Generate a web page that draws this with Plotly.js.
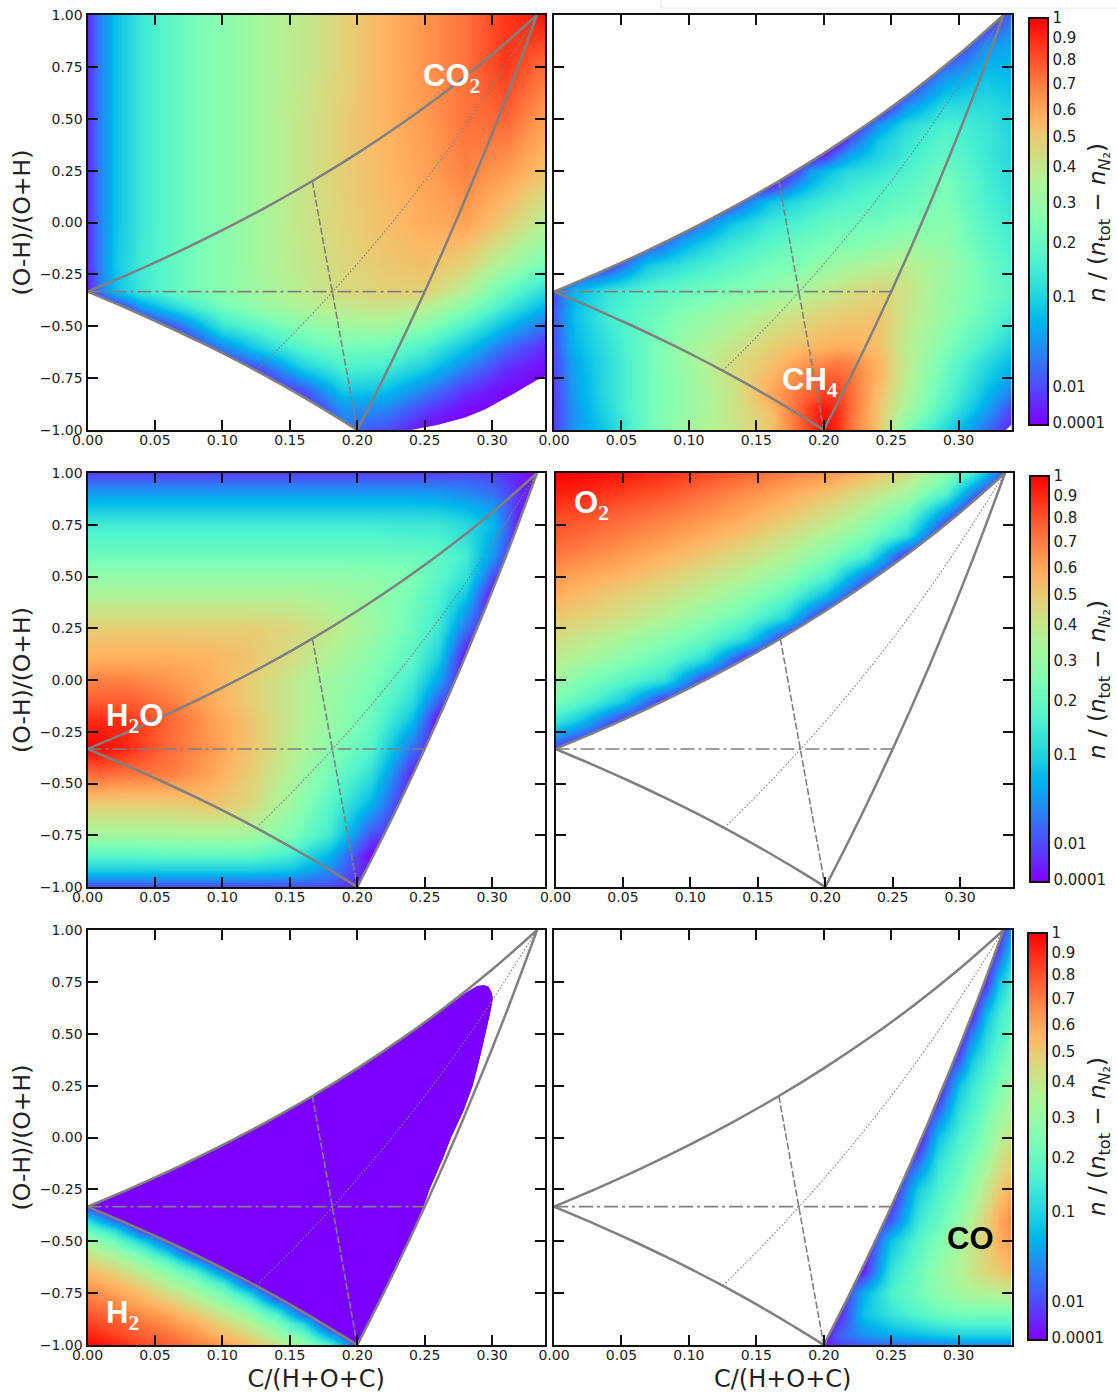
<!DOCTYPE html>
<html><head><meta charset="utf-8">
<script src="https://cdn.plot.ly/plotly-3.0.1.min.js"></script>
<style>html,body{margin:0;padding:0;background:#fff}</style></head>
<body><div id="chart" style="width:1117px;height:1396px"></div>
<script>
// Stoichiometric lines (C fraction, (O-H)/(O+H))
const upperX=[0,.0333,.0667,.1,.1333,.1667,.2,.2333,.2667,.3,.3333];
const upperY=[-.3333,-.2414,-.1429,-.037,.0769,.2,.3333,.478,.636,.8095,1];
const lowerX=[0,.03125,.0588,.0833,.1053,.125,.1429,.1591,.1739,.1875,.2];
const lowerY=[-.3333,-.4194,-.5,-.5758,-.647,-.714,-.778,-.838,-.895,-.949,-1];
const rightX=[.2,.2083,.2174,.2273,.2381,.25,.2632,.2778,.2941,.3125,.3333];
const rightY=[-1,-.8947,-.778,-.647,-.5,-.3333,-.1429,.0769,.3333,.636,1];
const dashX=[.1667,.2];const dashY=[.2,-1];
const dashDotX=[0,.25];const dashDotY=[-.3333,-.3333];
const dotX=[.125,.1429,.1667,.1818,.2,.2222,.25,.2857,.3333];
const dotY=[-.714,-.6,-.44,-.3333,-.2,-.0286,.2,.52,1];
// Outer edges of the coloured areas
const co2ArcX=[.24,.26,.28,.295,.306,.316,.325,.333,.34];
const co2ArcY=[-1,-.975,-.94,-.9,-.86,-.825,-.79,-.76,-.74];
const h2EdgeX=[.2,.2083,.2174,.2273,.2381,.249,.2535,.2635,.2695,.2785,.2855,.2905,.295,.2985,.3005,.2995,.2973,.294,.289,.28,.272];
const h2EdgeY=[-1,-.8947,-.778,-.647,-.5,-.3333,-.25,-.1,0,.125,.25,.375,.5,.6,.67,.70,.726,.734,.73,.695,.655];
// Colour bar ticks (position along the bar) and their labels
const cbTicks=[1,.951,.897,.838,.774,.708,.634,.545,.447,.314,.093,.005];
const cbText=['1','0.9','0.8','0.7','0.6','0.5','0.4','0.3','0.2','0.1','0.01','0.0001'];
const xTicks=[0,.05,.1,.15,.2,.25,.3];
const yTicks=[-1,-.75,-.5,-.25,0,.25,.5,.75,1];
// Colour levels (100 * sqrt(n/(ntot-nN2))), rows listed from top to bottom
const co2X=[0,.008,.02,.04,.07,.10,.13,.16,.19,.22,.25,.28,.31,.34];
const co2Y=[1,.75,.5,.25,0,-.2,-.33,-.4,-.5,-.6,-.7,-.8,-.9,-1];
const co2Z=[
[5,16,27,37,46,52,58,63,69,75,80,85,93,98],
[5,16,27,37,46,52,58,63,69,75,80,85,93,85],
[5,16,27,37,46,52,58,64,70,75,79,85,87,78],
[5,16,27,37,46,52,58,64,70,74,78,83,79,72],
[5,16,27,37,46,52,58,64,69,73,76,78,70,60],
[5,16,28,38,46,52,58,63,68,71,73,69,58,48],
[3,15,27,37,46,52,57,62,67,69,70,60,45,33],
[0,0,5,22,36,48,55,60,63,65,62,52,38,25],
[0,0,0,0,15,36,44,52,56,57,52,40,26,14],
[0,0,0,0,0,18,32,43,48,47,40,28,14,5],
[0,0,0,0,0,0,12,30,40,38,30,17,6,1],
[0,0,0,0,0,0,0,12,30,28,18,7,1,0],
[0,0,0,0,0,0,0,0,20,18,8,1,0,0],
[0,0,0,0,0,0,0,0,15,10,1,0,0,0]];
const ch4X=[0,.015,.04,.07,.10,.13,.16,.18,.19,.2,.21,.22,.24,.26,.29,.32,.34];
const ch4Y=[1,.85,.7,.55,.47,.4,.33,.25,.18,.1,0,-.1,-.2,-.33,-.45,-.6,-.67,-.75,-.83,-.9,-.95,-1];
const ch4Z=[
[0,0,0,0,0,0,0,0,0,0,0,0,0,0,0,0,15],
[0,0,0,0,0,0,0,0,0,0,0,0,0,0,0,20,24],
[0,0,0,0,0,0,0,0,0,0,0,0,0,0,20,28,26],
[0,0,0,0,0,0,0,0,0,0,0,0,0,20,34,34,30],
[0,0,0,0,0,0,0,0,0,0,0,0,20,32,40,36,31],
[0,0,0,0,0,0,0,0,0,0,0,12,28,36,42,37,32],
[0,0,0,0,0,0,0,0,0,3,14,22,31,37,44,37,32],
[0,0,0,0,0,0,0,8,20,26,30,33,36,40,47,38,33],
[0,0,0,0,0,0,3,20,26,31,34,37,40,43,49,39,34],
[0,0,0,0,0,8,28,33,36,38,40,41,43,45,50,40,35],
[0,0,0,0,10,27,37,40,42,44,45,46,47,50,52,42,37],
[0,0,0,8,25,36,42,46,47,48,50,50,52,55,53,44,38],
[0,0,5,28,36,42,48,50,52,54,56,57,60,62,56,46,40],
[10,25,36,42,46,50,54,57,60,62,64,66,69,65,55,47,42],
[12,27,38,45,52,57,63,66,68,69,70,71,72,64,54,45,38],
[10,25,35,47,57,63,70,73,74,75,76,76,73,62,50,38,30],
[9,23,34,47,56,66,72,78,80,82,84,82,75,63,47,33,25],
[8,22,34,47,55,65,75,82,85,88,88,85,75,62,45,30,22],
[8,21,34,47,55,63,77,85,88,92,92,86,73,60,43,26,15],
[8,20,33,47,55,63,73,86,93,97,94,86,72,58,40,22,8],
[8,20,31,47,56,63,72,86,92,99,95,85,72,54,36,18,5],
[8,20,30,48,57,63,72,85,92,100,95,85,72,50,32,15,3]];
const h2oX=[0,.01,.03,.06,.09,.12,.15,.18,.21,.24,.26,.28,.30,.32,.34];
const h2oY=[1,.95,.9,.85,.75,.6,.5,.4,.25,.1,0,-.1,-.2,-.33,-.45,-.6,-.75,-.85,-.92,-.97,-1];
const h2oZ=[
[8,8,8,8,8,8,8,8,8,8,8,8,8,4,0],
[15,15,15,15,15,15,15,15,15,15,15,14,12,4,0],
[22,22,22,22,22,22,22,22,22,22,21,19,15,6,0],
[27,27,27,27,27,27,27,27,27,27,26,24,20,5,0],
[38,38,38,38,38,38,38,38,38,37,37,33,26,2,0],
[47,47,47,47,47,47,47,47,47,46,44,38,20,0,0],
[54,54,54,54,54,54,54,54,53,50,43,35,10,0,0],
[60,60,60,60,60,60,60,58,55,48,40,28,0,0,0],
[70,70,70,70,70,70,68,63,56,46,37,15,0,0,0],
[75,76,76,76,75,72,66,59,52,43,30,0,0,0,0],
[82,83,83,80,76,70,63,56,50,39,22,0,0,0,0],
[88,88,88,84,77,70,63,55,48,34,12,0,0,0,0],
[95,95,94,87,79,72,63,55,46,27,0,0,0,0,0],
[100,99,95,86,80,72,62,52,42,15,0,0,0,0,0],
[86,87,85,84,78,70,60,48,35,5,0,0,0,0,0],
[70,70,70,70,72,68,56,42,25,0,0,0,0,0,0],
[57,57,57,57,58,57,50,37,10,0,0,0,0,0,0],
[42,42,42,43,43,43,38,24,0,0,0,0,0,0,0],
[30,30,30,30,30,30,28,18,2,0,0,0,0,0,0],
[17,17,17,17,17,17,16,13,2,0,0,0,0,0,0],
[8,8,8,8,8,8,8,8,3,0,0,0,0,0,0]];
const o2X=[0,.02,.05,.08,.11,.14,.17,.2,.23,.26,.29,.31,.33,.34];
const o2Y=[1,.9,.8,.7,.6,.5,.4,.3,.2,.1,0,-.1,-.2,-.3,-.4];
const o2Z=[
[100,99,97,94,91,87,83,80,74,66,52,38,14,5],
[96,95,92,89,85,81,77,72,65,57,40,15,0,0],
[91,90,87,84,81,77,72,66,58,46,18,0,0,0],
[88,86,83,80,76,72,66,59,50,35,0,0,0,0],
[84,82,79,75,71,66,60,51,39,5,0,0,0,0],
[79,77,74,70,65,60,53,41,15,0,0,0,0,0],
[75,73,69,65,60,53,44,25,0,0,0,0,0,0],
[71,69,65,60,53,45,32,0,0,0,0,0,0,0],
[66,63,58,52,45,33,5,0,0,0,0,0,0,0],
[62,58,52,45,34,5,0,0,0,0,0,0,0,0],
[56,50,43,35,8,0,0,0,0,0,0,0,0,0],
[49,43,30,5,0,0,0,0,0,0,0,0,0,0],
[36,27,5,0,0,0,0,0,0,0,0,0,0,0],
[14,5,0,0,0,0,0,0,0,0,0,0,0,0],
[0,0,0,0,0,0,0,0,0,0,0,0,0,0]];
const h2X=[0,.02,.04,.06,.08,.1,.12,.14,.16,.18,.2,.34];
const h2Y=[1,-.3,-.35,-.4,-.45,-.5,-.55,-.6,-.65,-.7,-.75,-.8,-.85,-.9,-.95,-1];
const h2Z=[
[1,1,1,1,1,1,1,1,1,1,1,1],
[1,1,1,1,1,1,1,1,1,1,1,1],
[14,1,1,1,1,1,1,1,1,1,1,1],
[35,14,1,1,1,1,1,1,1,1,1,1],
[47,35,10,1,1,1,1,1,1,1,1,1],
[56,47,31,10,1,1,1,1,1,1,1,1],
[63,56,45,28,1,1,1,1,1,1,1,1],
[69,63,54,43,24,1,1,1,1,1,1,1],
[74,69,61,52,41,18,1,1,1,1,1,1],
[78,74,68,59,51,38,10,1,1,1,1,1],
[82,78,73,66,58,48,31,1,1,1,1,1],
[86,82,77,72,65,56,45,22,1,1,1,1],
[89,86,81,77,71,63,54,40,12,1,1,1],
[92,89,85,81,76,69,61,50,33,1,1,1],
[96,92,88,85,80,74,68,57,46,22,1,1],
[100,96,91,88,84,79,73,65,55,40,10,1]];
const coX=[.2,.21,.23,.25,.27,.285,.3,.31,.32,.33,.34];
const coY=[1,.9,.75,.6,.5,.37,.25,.12,0,-.12,-.25,-.4,-.5,-.65,-.75,-.85,-.95,-1];
const coZ=[
[0,0,0,0,0,0,0,0,0,3,22],
[0,0,0,0,0,0,0,0,0,10,32],
[0,0,0,0,0,0,0,0,5,28,40],
[0,0,0,0,0,0,0,3,26,38,45],
[0,0,0,0,0,0,0,17,32,40,48],
[0,0,0,0,0,0,12,30,38,45,52],
[0,0,0,0,0,0,28,37,43,50,57],
[0,0,0,0,0,14,35,41,48,55,61],
[0,0,0,0,0,28,40,45,52,60,66],
[0,0,0,0,14,35,44,50,57,65,71],
[0,0,0,0,30,40,48,55,63,71,76],
[0,0,0,12,37,45,54,61,69,77,82],
[0,0,0,28,42,50,58,64,70,76,79],
[0,0,5,36,46,54,60,64,68,71,74],
[0,0,25,40,47,53,57,59,60,61,62],
[0,2,28,36,42,46,48,48,48,48,48],
[0,12,20,24,27,29,31,31,31,31,31],
[3,8,12,13,15,16,18,18,18,18,18]];
const rainbow=[[0,'#8000ff'],[.1,'#4d4ffc'],[.2,'#1a96f3'],[.25,'#00b4ec'],[.3,'#1acee3'],[.4,'#4df3ce'],[.5,'#80ffb4'],[.6,'#b3f396'],[.7,'#e6ce74'],[.75,'#ffb462'],[.8,'#ff964f'],[.9,'#ff4f28'],[1,'#ff0000']];
const h2Purple='#7a00ff';

const W=1117,H=1396;
const xMax=.3392;
const colsPx=[[[87.5,545],[554,1011.5]],[[87.5,545],[555.5,1013]],[[87.5,545],[554,1011.5]]];
const rowsPx=[[15,430],[473,887],[930,1345]];
const cbPx=[[1029,18,425],[1030,476,882],[1028,933,1340]];
const cbTitle='<i>n</i> / (<i>n</i><sub>tot</sub> − <i>n</i><sub><i>N</i>₂</sub>)';
const cbTitleY=[223,680,1137];
const serif=s=>'<sub><span style="font-family:Liberation Serif">'+s+'</span></sub>';
const panels=[
 {x:co2X,y:co2Y,z:co2Z,mask:[[lowerX.concat([.2,0]),lowerY.concat([-1,-1]),'#fff'],[co2ArcX.concat([.34]),co2ArcY.concat([-1]),'#fff']],label:'CO'+serif(2),lx:.27,ly:.696,c:'#fff'},
 {x:ch4X,y:ch4Y,z:ch4Z,mask:[[upperX.concat([0]),upperY.concat([1]),'#fff'],[[.335,.34,.34],[-1,-1,-.97],'#fff']],label:'CH'+serif(4),lx:.19,ly:-.77,c:'#fff'},
 {x:h2oX,y:h2oY,z:h2oZ,mask:[[rightX.concat([.34,.34]),rightY.concat([1,-1]),'#fff']],label:'H'+serif(2)+'O',lx:.035,ly:-.184,c:'#fff'},
 {x:o2X,y:o2Y,z:o2Z,mask:[[upperX.concat([.34,.34,0]),upperY.concat([1,-1,-1]),'#fff']],label:'O'+serif(2),lx:.027,ly:.845,c:'#fff'},
 {x:h2X,y:h2Y,z:h2Z,mask:[[upperX.concat([0]),upperY.concat([1]),'#fff'],
   [h2EdgeX.concat([.2667,.3,.3333,.34,.34]),h2EdgeY.concat([.636,.8095,1,1,-1]),'#fff'],
   [upperX.slice(0,9).concat(h2EdgeX.slice().reverse(),lowerX.slice().reverse()),upperY.slice(0,9).concat(h2EdgeY.slice().reverse(),lowerY.slice().reverse()),h2Purple]],
   label:'H'+serif(2),lx:.0256,ly:-.855,c:'#fff'},
 {x:coX,y:coY,z:coZ,mask:[[rightX.concat([0,0]),rightY.concat([1,-1]),'#fff']],label:'CO',lx:.309,ly:-.489,c:'#000'}
];
const traces=[],annotations=[],layout={
 width:W,height:H,paper_bgcolor:'#fff',plot_bgcolor:'#fff',showlegend:false,
 margin:{l:0,r:0,t:0,b:0,autoexpand:false},
 font:{family:'DejaVu Sans',color:'#222'},annotations,
 shapes:[{type:'line',xref:'paper',yref:'paper',x0:661/W,x1:1,y0:1-8/H,y1:1-8/H,line:{color:'#e8e8e8',width:1}},
         {type:'line',xref:'paper',yref:'paper',x0:661/W,x1:661/W,y0:1-8/H,y1:1,line:{color:'#e8e8e8',width:1}}]
};
const lineSets=[[upperX,upperY,'solid',2.5,'spline'],[lowerX,lowerY,'solid',2.5,'spline'],[rightX,rightY,'solid',2.5,'spline'],
 [dashX,dashY,'7px,2.5px',1.6,'linear'],[dashDotX,dashDotY,'14px,4px,3px,4px',1.6,'linear'],[dotX,dotY,'1.5px,2px',1.1,'spline']];
panels.forEach((p,i)=>{
 const r=Math.floor(i/2),c=i%2,n=i+1,xa='x'+(n>1?n:''),ya='y'+(n>1?n:'');
 const hm={type:'heatmap',x:p.x,y:p.y.slice().reverse(),z:p.z.slice().reverse().map(row=>row.map(v=>v/100)),
   xaxis:xa,yaxis:ya,zmin:0,zmax:1,zsmooth:'best',colorscale:rainbow,hoverinfo:'skip',showscale:c===1};
 if(c===1){const b=cbPx[r];hm.colorbar={x:b[0]/W,xanchor:'left',xpad:0,ypad:0,thickness:19,thicknessmode:'pixels',
   y:1-(b[1]+b[2])/2/H,yanchor:'middle',len:(b[2]-b[1])/H,lenmode:'fraction',outlinecolor:'#111',outlinewidth:2,borderwidth:0,
   tickmode:'array',tickvals:cbTicks,ticktext:cbText,ticks:'',tickfont:{family:'DejaVu Sans',size:15,color:'#222'}};
   annotations.push({xref:'paper',yref:'paper',x:1099/W,y:1-cbTitleY[r]/H,text:cbTitle,textangle:-90,showarrow:false,
     xanchor:'center',yanchor:'middle',font:{family:'DejaVu Sans',size:23,color:'#222'}});}
 traces.push(hm);
 p.mask.forEach(m=>traces.push({type:'scatter',x:m[0],y:m[1],xaxis:xa,yaxis:ya,mode:'none',fill:'toself',fillcolor:m[2],hoverinfo:'skip'}));
 lineSets.forEach(s=>traces.push({type:'scatter',x:s[0],y:s[1],xaxis:xa,yaxis:ya,mode:'lines',hoverinfo:'skip',
   line:{color:'#808080',width:s[3],dash:s[2],shape:s[4]}}));
 const axCommon={showgrid:false,zeroline:false,ticks:'inside',ticklen:10,tickwidth:2,tickcolor:'#111',linecolor:'#111',linewidth:2,mirror:'ticks',
   tickmode:'array',tickformat:'.2f',tickfont:{family:'DejaVu Sans',size:14,color:'#222'}};
 layout['xaxis'+(n>1?n:'')]=Object.assign({},axCommon,{domain:[colsPx[r][c][0]/W,colsPx[r][c][1]/W],range:[0,xMax],tickvals:xTicks,anchor:ya,ticklabelstandoff:-4,
   title:r===2?{text:'C/(H+O+C)',font:{family:'DejaVu Sans',size:24,color:'#222'},standoff:8}:undefined});
 layout['yaxis'+(n>1?n:'')]=Object.assign({},axCommon,{domain:[1-rowsPx[r][1]/H,1-rowsPx[r][0]/H],range:[-1,1],tickvals:yTicks,anchor:xa,
   showticklabels:c===0,title:c===0?{text:'(O-H)/(O+H)',font:{family:'DejaVu Sans',size:23.5,color:'#222'},standoff:3}:undefined});
 annotations.push({xref:xa,yref:ya,x:p.lx,y:p.ly,text:'<b>'+p.label+'</b>',showarrow:false,
   font:{family:'Liberation Sans',size:31,color:p.c},xanchor:'center',yanchor:'middle'});
});
Plotly.newPlot('chart',traces,layout,{staticPlot:true,displayModeBar:false});
</script></body></html>
